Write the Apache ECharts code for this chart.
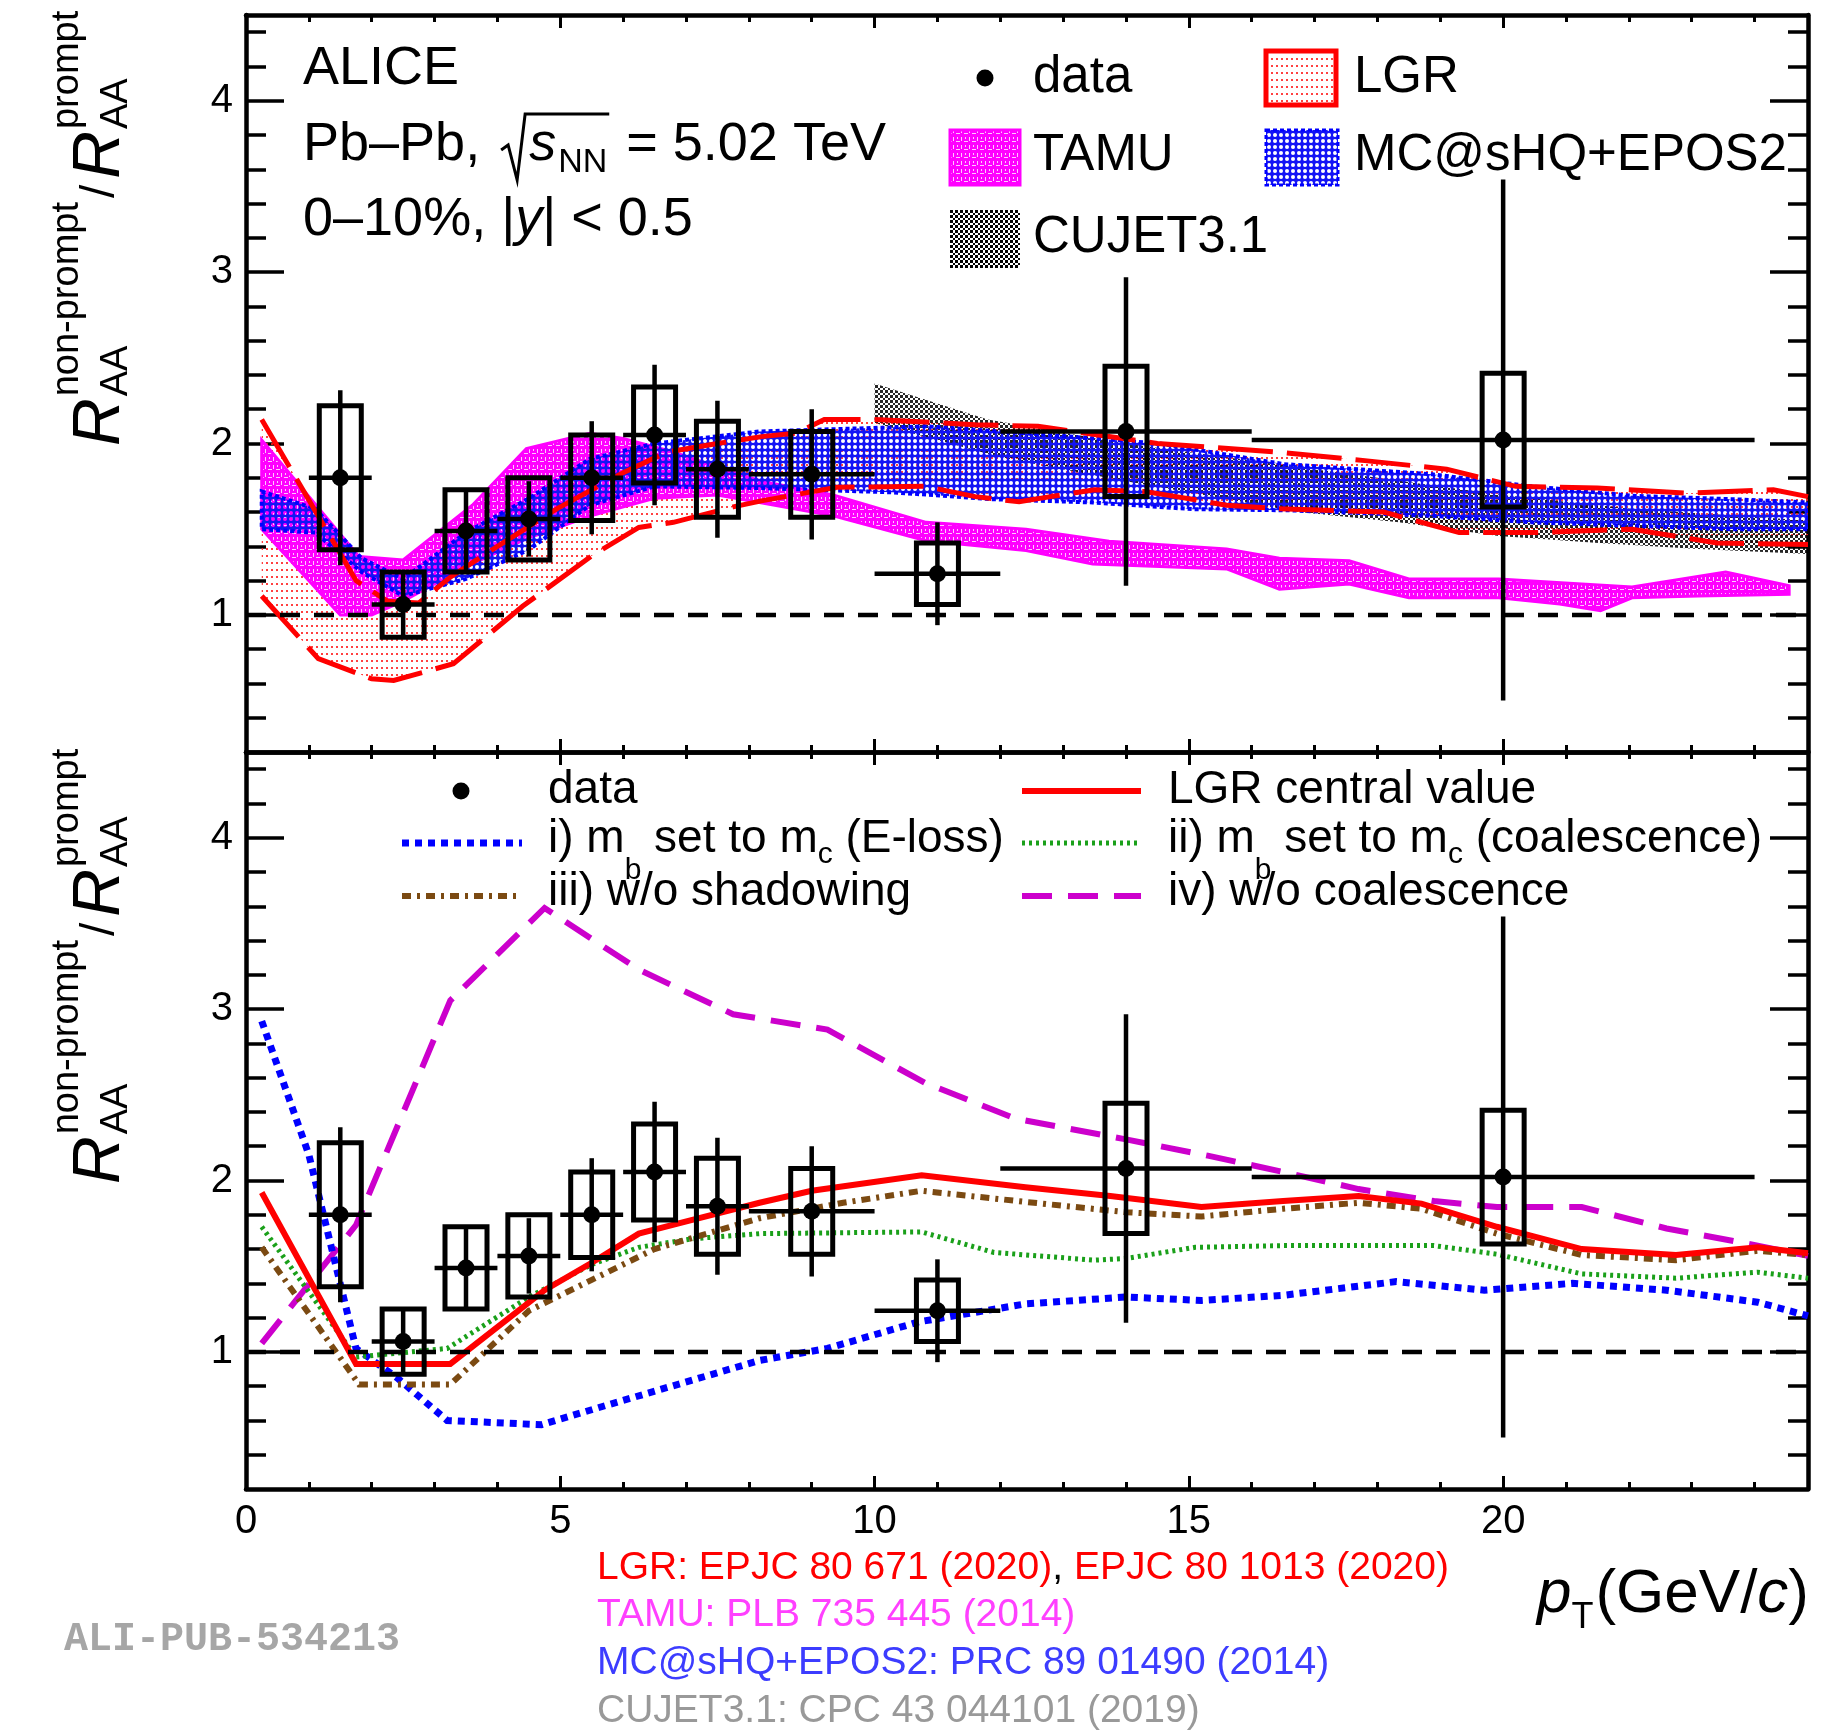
<!DOCTYPE html>
<html>
<head>
<meta charset="utf-8">
<script src="https://cdn.jsdelivr.net/npm/echarts@6/dist/echarts.min.js"></script>
<style>
  html, body { margin: 0; padding: 0; background: #fff; }
  #chart { width: 1828px; height: 1731px; }
</style>
</head>
<body>
<div id="chart"></div>
<script>
// ---------------- measured data: non-prompt / prompt D0 R_AA ratio ----------------
const ptCenter = [1.5, 2.5, 3.5, 4.5, 5.5, 6.5, 7.5, 9, 11, 14, 20];
const ptLow    = [1, 2, 3, 4, 5, 6, 7, 8, 10, 12, 16];
const ptHigh   = [2, 3, 4, 5, 6, 7, 8, 10, 12, 16, 24];
const ratio    = [1.80, 1.06, 1.49, 1.56, 1.80, 2.05, 1.85, 1.82, 1.24, 2.07, 2.02];
const statErr  = [0.51, 0.20, 0.23, 0.22, 0.33, 0.41, 0.40, 0.38, 0.30, 0.90, 1.52];
const systErr  = [0.42, 0.19, 0.24, 0.24, 0.25, 0.28, 0.28, 0.25, 0.18, 0.38, 0.39];

// ---------------- model bands (upper / lower edges) ----------------
const lgrUpX  = [0.25, 1.75, 2.25, 2.75, 3.25, 4.0, 4.95, 6.0, 6.7, 7.5, 8.2, 8.75, 9.2, 10.0, 11.6, 12.6, 14.5, 15.3, 16.4, 17.8, 19.1, 20.2, 21.5, 22.95, 24.3, 24.85];
const lgrUp   = [2.14, 1.20, 1.08, 1.07, 1.22, 1.40, 1.62, 1.83, 1.95, 2.00, 2.04, 2.06, 2.14, 2.14, 2.11, 2.10, 2.00, 1.98, 1.95, 1.90, 1.85, 1.75, 1.74, 1.71, 1.73, 1.69];
const lgrLoX  = [0.25, 1.15, 2.0, 2.35, 3.3, 4.4, 5.5, 6.25, 6.8, 7.75, 8.2, 9.4, 10.8, 11.6, 12.3, 12.8, 13.5, 14.3, 14.8, 15.6, 16.4, 18.1, 19.3, 20.5, 22.05, 23.4, 24.85];
const lgrLo   = [1.11, 0.745, 0.627, 0.617, 0.715, 1.05, 1.345, 1.51, 1.54, 1.63, 1.665, 1.745, 1.75, 1.69, 1.66, 1.69, 1.73, 1.72, 1.69, 1.64, 1.62, 1.60, 1.48, 1.48, 1.50, 1.42, 1.41];

const tamuUpX = [0.25, 1.8, 2.5, 3.6, 4.46, 5.47, 6.0, 6.8, 7.6, 8.2, 9.34, 10.82, 12.41, 13.73, 15.6, 16.44, 17.55, 18.5, 19.93, 21.25, 22.05, 23.54, 24.55];
const tamuUp  = [2.02, 1.34, 1.32, 1.64, 1.97, 2.06, 2.03, 1.95, 1.85, 1.78, 1.70, 1.54, 1.50, 1.43, 1.385, 1.33, 1.316, 1.21, 1.21, 1.18, 1.163, 1.25, 1.17];
const tamuLoX = [0.25, 1.5, 2.0, 2.5, 3.0, 3.5, 4.5, 5.5, 6.5, 7.5, 8.17, 9.34, 10.82, 12.41, 13.47, 15.6, 16.44, 17.55, 18.5, 19.93, 20.9, 21.55, 22.05, 23.1, 24.55];
const tamuLo  = [1.50, 1.00, 1.00, 1.08, 1.18, 1.28, 1.45, 1.58, 1.68, 1.70, 1.656, 1.578, 1.433, 1.375, 1.297, 1.268, 1.15, 1.18, 1.10, 1.10, 1.064, 1.025, 1.10, 1.11, 1.12];

const mcUpX   = [0.25, 1.1, 1.84, 2.5, 3.5, 4.5, 5.47, 6.5, 8.17, 10.82, 12.94, 14.53, 16.5, 18.87, 20.46, 22.05, 23.64, 24.85];
const mcUp    = [1.72, 1.62, 1.33, 1.21, 1.48, 1.68, 1.91, 2.00, 2.07, 2.10, 2.045, 2.00, 1.88, 1.82, 1.75, 1.695, 1.675, 1.656];
const mcLoX   = [0.25, 1.1, 1.84, 2.5, 3.5, 4.5, 5.47, 6.5, 8.17, 10.29, 11.88, 13.47, 15.06, 16.6, 18.87, 20.46, 22.05, 23.64, 24.85];
const mcLo    = [1.50, 1.48, 1.25, 1.11, 1.21, 1.38, 1.64, 1.75, 1.74, 1.715, 1.675, 1.656, 1.617, 1.61, 1.578, 1.54, 1.52, 1.50, 1.50];

const cujetUpX = [10.0, 11.8, 14.0, 16.0, 18.0, 20.0, 22.0, 24.85];
const cujetUp  = [2.35, 2.14, 2.00, 1.90, 1.80, 1.70, 1.62, 1.55];
const cujetLoX = [10.0, 11.0, 12.0, 14.0, 16.76, 18.34, 19.93, 21.52, 23.1, 24.85];
const cujetLo  = [2.12, 2.02, 1.92, 1.78, 1.60, 1.54, 1.46, 1.42, 1.385, 1.355];

// ---------------- LGR variations (lower panel) ----------------
const lgrCentralX = [0.25, 1.75, 3.25, 4.75, 5.5, 6.25, 7.1, 8.17, 9.0, 10.75, 12.4, 13.75, 15.2, 16.5, 17.7, 18.7, 19.9, 21.25, 22.75, 24.05, 24.85];
const lgrCentral  = [1.93, 0.93, 0.93, 1.36, 1.52, 1.69, 1.77, 1.87, 1.94, 2.03, 1.96, 1.91, 1.845, 1.88, 1.91, 1.865, 1.73, 1.60, 1.565, 1.61, 1.575];
const elossX = [0.25, 1.0, 1.75, 2.4, 3.2, 4.7, 5.75, 7.1, 8.17, 9.25, 10.7, 12.4, 14.0, 15.2, 16.5, 18.3, 19.7, 21.1, 22.6, 24.05, 24.85];
const eloss  = [2.93, 2.15, 1.02, 0.85, 0.60, 0.575, 0.69, 0.835, 0.95, 1.02, 1.175, 1.28, 1.32, 1.30, 1.33, 1.41, 1.36, 1.40, 1.36, 1.29, 1.21];
const coalX  = [0.25, 1.75, 3.2, 4.5, 5.5, 6.25, 7.1, 8.17, 10.75, 11.9, 13.5, 14.0, 15.1, 16.5, 18.9, 19.9, 21.25, 22.75, 24.05, 24.85];
const coal   = [1.73, 0.97, 1.02, 1.32, 1.51, 1.61, 1.66, 1.69, 1.70, 1.58, 1.535, 1.545, 1.61, 1.62, 1.62, 1.57, 1.455, 1.43, 1.465, 1.43];
const noShadowX = [0.25, 1.8, 3.25, 4.5, 5.5, 6.5, 8.17, 9.5, 10.75, 12.4, 14.0, 15.2, 16.5, 17.7, 18.7, 19.9, 21.25, 22.75, 24.05, 24.85];
const noShadow  = [1.61, 0.81, 0.81, 1.24, 1.42, 1.60, 1.78, 1.87, 1.94, 1.875, 1.815, 1.79, 1.835, 1.87, 1.835, 1.69, 1.565, 1.535, 1.59, 1.565];
const noCoalX = [0.25, 1.75, 3.25, 4.75, 6.25, 7.75, 9.25, 10.8, 12.25, 14.0, 15.3, 16.5, 17.7, 18.9, 19.9, 21.25, 22.6, 24.05, 24.85];
const noCoal  = [1.05, 1.74, 3.05, 3.59, 3.23, 2.97, 2.88, 2.57, 2.36, 2.24, 2.145, 2.05, 1.95, 1.88, 1.845, 1.845, 1.72, 1.62, 1.56];

// ---------------- axes ----------------
const X_MIN = 0, X_MAX = 24.85, Y_MIN = 0.2, Y_MAX = 4.5;
const xMajorTicks = [0, 5, 10, 15, 20];
const xMinorTicks = [1, 2, 3, 4, 6, 7, 8, 9, 11, 12, 13, 14, 16, 17, 18, 19, 21, 22, 23, 24];
const yMajorTicks = [1, 2, 3, 4];
const yMinorTicks = [0.4, 0.6, 0.8, 1.2, 1.4, 1.6, 1.8, 2.2, 2.4, 2.6, 2.8, 3.2, 3.4, 3.6, 3.8, 4.2, 4.4];

// ---------------- helpers ----------------
const FAM = '"Liberation Sans", Arial, Helvetica, sans-serif';
const mctx = document.createElement('canvas').getContext('2d');
function textW(s, size, italic, bold, fam) {
  mctx.font = (italic ? 'italic ' : '') + (bold ? 'bold ' : '') + size + 'px ' + (fam || FAM);
  return mctx.measureText(s).width;
}
const MID = 0.32; // distance from alphabetic baseline to the 'middle' line, in em

function txt(t, x, base, size, opt) {
  opt = opt || {};
  return {
    type: 'text', x: x, y: base - MID * size, z: 50,
    style: {
      text: t, fontSize: size, fontFamily: opt.fam || FAM,
      fontStyle: opt.italic ? 'italic' : 'normal', fontWeight: opt.bold ? 'bold' : 'normal',
      fill: opt.color || '#000', align: 'left', verticalAlign: 'middle'
    }
  };
}
// a sequence of text pieces on one baseline
function textRun(x, base, pieces, color) {
  const out = [];
  let cx = x;
  pieces.forEach(p => {
    out.push(txt(p.t, cx + (p.dx || 0), base + (p.dy || 0), p.size, { italic: p.italic, color: p.color || color }));
    cx += (p.dx || 0) + textW(p.t, p.size, p.italic) + (p.gap || 0);
  });
  return { items: out, end: cx };
}
function runWidth(pieces) {
  return pieces.reduce((s, p) => s + (p.dx || 0) + textW(p.t, p.size, p.italic) + (p.gap || 0), 0);
}

function tile(w, h, paint) {
  const c = document.createElement('canvas');
  c.width = w; c.height = h;
  paint(c.getContext('2d'));
  return { image: c, repeat: 'repeat' };
}
const lgrFill = tile(5, 7, g => { g.fillStyle = 'rgba(255,30,30,0.85)'; g.fillRect(1, 2, 2, 2); });
const tamuFill = tile(8, 8, g => {
  g.fillStyle = '#ff00ff'; g.fillRect(0, 0, 8, 8);
  g.fillStyle = 'rgba(255,235,255,0.85)'; g.fillRect(1, 1, 1, 4); g.fillRect(4, 5, 4, 1); g.fillRect(5, 1, 1, 2);
});
// blue with see-through holes
const mcFill = tile(6, 6, g => {
  g.fillStyle = '#1414f5'; g.fillRect(0, 0, 6, 6);
  g.globalCompositeOperation = 'destination-out';
  g.beginPath(); g.arc(3, 3, 2.0, 0, Math.PI * 2); g.fill();
});
const cujetFill = tile(5, 5, g => {
  g.fillStyle = '#000'; g.fillRect(0, 0, 3, 3); g.fillRect(3, 3, 2, 2);
});

// ---------------- series builders ----------------
function band(name, ux, uy, lx, ly, fill, stroke, opacity) {
  return {
    type: 'custom', name: name, xAxisIndex: 0, yAxisIndex: 0, clip: true,
    data: [[ux[0], uy[0]]],
    renderItem: (params, api) => {
      const pts = ux.map((x, i) => api.coord([x, uy[i]]));
      for (let i = lx.length - 1; i >= 0; i--) pts.push(api.coord([lx[i], ly[i]]));
      return {
        type: 'polygon', shape: { points: pts },
        style: { fill: fill, opacity: opacity == null ? 1 : opacity, stroke: stroke ? stroke.color : null, lineWidth: stroke ? stroke.width : 0, lineDash: stroke && stroke.dash ? stroke.dash : null }
      };
    }
  };
}
function curve(name, xs, ys, axis, color, width, dash, cap) {
  return {
    type: 'line', name: name, xAxisIndex: axis, yAxisIndex: axis,
    data: xs.map((x, i) => [x, ys[i]]),
    showSymbol: false, symbol: 'none', smooth: false, silent: true,
    lineStyle: { color: color, width: width, type: dash || 'solid', cap: cap || 'butt', join: 'miter' }
  };
}
function unity(axis) {
  return curve('unity', [X_MIN, X_MAX], [1, 1], axis, '#000', 4.5, [20, 14]);
}
function points(axis) {
  return {
    type: 'custom', name: 'data', xAxisIndex: axis, yAxisIndex: axis, z: 6,
    data: ptCenter.map((x, i) => [x, ratio[i], ptLow[i], ptHigh[i], statErr[i], systErr[i]]),
    encode: { x: 0, y: 1 },
    renderItem: (params, api) => {
      const x = api.value(0), y = api.value(1);
      const c = api.coord([x, y]);
      const sT = api.coord([x, y + api.value(4)]), sB = api.coord([x, y - api.value(4)]);
      const bT = api.coord([x, y + api.value(5)]), bB = api.coord([x, y - api.value(5)]);
      const xl = api.coord([api.value(2), y]), xh = api.coord([api.value(3), y]);
      const ls = { stroke: '#000', lineWidth: 4.5 };
      return {
        type: 'group', children: [
          { type: 'rect', shape: { x: c[0] - 21, y: bT[1], width: 42, height: bB[1] - bT[1] }, style: { fill: 'none', stroke: '#000', lineWidth: 5 } },
          { type: 'line', shape: { x1: c[0], y1: sT[1], x2: c[0], y2: sB[1] }, style: ls },
          { type: 'line', shape: { x1: xl[0], y1: c[1], x2: xh[0], y2: c[1] }, style: ls },
          { type: 'circle', shape: { cx: c[0], cy: c[1], r: 8.5 }, style: { fill: '#000' } }
        ]
      };
    }
  };
}

// ---------------- axes builders ----------------
const AX = { color: '#000', width: 4.5 };
function xAxes(g) {
  const base = { type: 'value', gridIndex: g, min: X_MIN, max: X_MAX, splitLine: { show: false } };
  const major = (pos, labels) => Object.assign({}, base, {
    position: pos,
    axisLine: { show: true, onZero: false, lineStyle: AX },
    axisTick: { show: true, inside: true, length: 13, customValues: xMajorTicks, lineStyle: { color: '#000', width: 3 } },
    axisLabel: labels ? { show: true, customValues: xMajorTicks, fontSize: 40, fontFamily: FAM, color: '#000', margin: 13 } : { show: false }
  });
  const minor = pos => Object.assign({}, base, {
    position: pos,
    axisLine: { show: false, onZero: false },
    axisTick: { show: true, inside: true, length: 7, customValues: xMinorTicks, lineStyle: { color: '#000', width: 3 } },
    axisLabel: { show: false }
  });
  return [major('bottom', g === 1), major('top', false), minor('bottom'), minor('top')];
}
function yAxes(g) {
  const base = { type: 'value', gridIndex: g, min: Y_MIN, max: Y_MAX, splitLine: { show: false } };
  const major = (pos, labels) => Object.assign({}, base, {
    position: pos,
    axisLine: { show: true, onZero: false, lineStyle: AX },
    axisTick: { show: true, inside: true, length: 38, customValues: yMajorTicks, lineStyle: { color: '#000', width: 3.5 } },
    axisLabel: labels ? { show: true, customValues: yMajorTicks, fontSize: 40, fontFamily: FAM, color: '#000', margin: 13 } : { show: false }
  });
  const minor = pos => Object.assign({}, base, {
    position: pos,
    axisLine: { show: false, onZero: false },
    axisTick: { show: true, inside: true, length: 20, customValues: yMinorTicks, lineStyle: { color: '#000', width: 3.5 } },
    axisLabel: { show: false }
  });
  return [major('left', true), major('right', false), minor('left'), minor('right')];
}

// ---------------- text and legends ----------------
const G = [];
function push(items) { items.forEach(i => G.push(i)); }

// vertical axis title, R_AA^non-prompt / R_AA^prompt, reading upwards from screen y = bottom
function yTitle(bottom) {
  const kids = [];
  const big = 66, small = 38, baseR = 122, baseSub = 129, baseSup = 80;
  let lx = 0;
  kids.push(txt('R', lx, baseR, big, { italic: true }));
  lx += textW('R', big, true) + 2;
  kids.push(txt('AA', lx, baseSub, small));
  kids.push(txt('non-prompt', lx, baseSup, small));
  lx += textW('non-prompt', small) + 4;
  kids.push(txt('/', lx, baseR - 6, 48));
  lx += textW('/', 48) + 6;
  kids.push(txt('R', lx, baseR, big, { italic: true }));
  lx += textW('R', big, true) + 2;
  kids.push(txt('AA', lx, baseSub, small));
  kids.push(txt('prompt', lx, baseSup, small));
  return { type: 'group', x: 0, y: bottom, rotation: Math.PI / 2, children: kids, z: 50 };
}
G.push(yTitle(446));
G.push(yTitle(1184));

// header
const HS = 54;
push(textRun(303, 86, [{ t: 'ALICE', size: HS }]).items);
(function () {
  const a = textRun(303, 162, [{ t: 'Pb\u2013Pb, ', size: HS }]);
  push(a.items);
  const x0 = a.end + 6;
  const b = textRun(x0 + 28, 162, [{ t: 's', size: HS, italic: true, gap: 2 }, { t: 'NN', size: 34, dy: 12 }]);
  push(b.items);
  G.push({ type: 'polyline', z: 50, shape: { points: [[x0, 150], [x0 + 7, 145], [x0 + 16, 180], [x0 + 24, 114], [b.end + 2, 114]] }, style: { stroke: '#000', lineWidth: 3, fill: null } });
  push(textRun(b.end + 4, 162, [{ t: ' = 5.02 TeV', size: HS }]).items);
})();
push(textRun(303, 237, [{ t: '0\u201310%, |', size: HS }, { t: 'y', size: HS, italic: true }, { t: '| < 0.5', size: HS }]).items);

// upper legend
const TS = 51;
G.push({ type: 'circle', z: 50, shape: { cx: 985, cy: 78, r: 8.5 }, style: { fill: '#000' } });
push(textRun(1033, 94, [{ t: 'data', size: TS }]).items);
G.push({ type: 'rect', z: 50, shape: { x: 1266, y: 51, width: 70, height: 54 }, style: { fill: lgrFill, stroke: '#ff0000', lineWidth: 5 } });
push(textRun(1354, 94, [{ t: 'LGR', size: TS }]).items);
G.push({ type: 'rect', z: 50, shape: { x: 950, y: 130, width: 70, height: 55 }, style: { fill: tamuFill, stroke: '#ff00ff', lineWidth: 3 } });
push(textRun(1033, 172, [{ t: 'TAMU', size: TS }]).items);
G.push({ type: 'rect', z: 50, shape: { x: 1266, y: 130, width: 72, height: 55 }, style: { fill: mcFill, stroke: '#0000ff', lineWidth: 3, lineDash: [4, 3] } });
push(textRun(1354, 172, [{ t: 'MC@sHQ+EPOS2', size: TS }]).items);
G.push({ type: 'rect', z: 50, shape: { x: 950, y: 210, width: 70, height: 58 }, style: { fill: cujetFill, stroke: null } });
push(textRun(1033, 254, [{ t: 'CUJET3.1', size: TS }]).items);

// lower legend
function legLine(x1, x2, y, color, width, dash) {
  G.push({ type: 'line', z: 50, shape: { x1: x1, y1: y, x2: x2, y2: y }, style: { stroke: color, lineWidth: width, lineDash: dash || null } });
}
const LS = 46, SUB = 30;
G.push({ type: 'circle', z: 50, shape: { cx: 461, cy: 791, r: 8.5 }, style: { fill: '#000' } });
push(textRun(548, 805, [{ t: 'data', size: LS }]).items);
legLine(1022, 1141, 791, '#ff0000', 6);
push(textRun(1168, 805, [{ t: 'LGR central value', size: LS }]).items);
legLine(402, 522, 843, '#0000ff', 7, [7, 6]);
push(textRun(548, 854, [{ t: 'i) m', size: LS }, { t: 'b', size: SUB, dy: 26 }, { t: ' set to m', size: LS }, { t: 'c', size: SUB, dy: 10 }, { t: ' (E-loss)', size: LS }]).items);
legLine(1022, 1141, 843, '#1aa01a', 5, [3, 4]);
push(textRun(1168, 854, [{ t: 'ii) m', size: LS }, { t: 'b', size: SUB, dy: 26 }, { t: ' set to m', size: LS }, { t: 'c', size: SUB, dy: 10 }, { t: ' (coalescence)', size: LS }]).items);
legLine(402, 522, 896, '#7b4a12', 6, [9, 6, 3, 6]);
push(textRun(548, 907, [{ t: 'iii) w/o shadowing', size: LS }]).items);
legLine(1022, 1141, 896, '#cc00cc', 6, [30, 16]);
push(textRun(1168, 907, [{ t: 'iv) w/o coalescence', size: LS }]).items);

// x axis title, right-aligned with the frame
(function () {
  const pcs = [{ t: 'p', size: 62, italic: true }, { t: 'T', size: 36, dy: 15, gap: 2 }, { t: '(GeV/', size: 62 }, { t: 'c', size: 62, italic: true }, { t: ')', size: 62 }];
  push(textRun(1809 - runWidth(pcs), 1615, pcs).items);
})();

// references
push(textRun(597, 1581, [{ t: 'LGR: EPJC 80 671 (2020)', size: 39, color: '#ff0000' }, { t: ', ', size: 39, color: '#000' }, { t: 'EPJC 80 1013 (2020)', size: 39, color: '#ff0000' }]).items);
push(textRun(597, 1628, [{ t: 'TAMU: PLB 735 445 (2014)', size: 39, color: '#ff40ff' }]).items);
push(textRun(597, 1676, [{ t: 'MC@sHQ+EPOS2: PRC 89 01490 (2014)', size: 39, color: '#3c3cff' }]).items);
push(textRun(597, 1724, [{ t: 'CUJET3.1: CPC 43 044101 (2019)', size: 39, color: '#999999' }]).items);
G.push(txt('ALI-PUB-534213', 64, 1653, 40, { bold: true, fam: '"Liberation Mono", "DejaVu Sans Mono", monospace', color: '#a6a6a6' }));

// ---------------- chart ----------------
const chart = echarts.init(document.getElementById('chart'), null, { renderer: 'canvas', width: 1828, height: 1731 });
const option = {
  backgroundColor: '#fff',
  animation: false,
  grid: [
    { left: 246, top: 15, width: 1562, height: 737, containLabel: false, outerBoundsMode: 'none' },
    { left: 246, top: 752, width: 1562, height: 737, containLabel: false, outerBoundsMode: 'none' }
  ],
  xAxis: xAxes(0).concat(xAxes(1)),
  yAxis: yAxes(0).concat(yAxes(1)),
  series: [
    band('LGR', lgrUpX, lgrUp, lgrLoX, lgrLo, lgrFill),
    band('TAMU', tamuUpX, tamuUp, tamuLoX, tamuLo, tamuFill, { color: '#ff00ff', width: 3 }),
    band('CUJET3.1', cujetUpX, cujetUp, cujetLoX, cujetLo, cujetFill, null, 0.85),
    band('MC@sHQ+EPOS2', mcUpX, mcUp, mcLoX, mcLo, mcFill, { color: '#0000ff', width: 4, dash: [4, 3] }),
    curve('LGR upper', lgrUpX, lgrUp, 0, '#ff0000', 5, [55, 14]),
    curve('LGR lower', lgrLoX, lgrLo, 0, '#ff0000', 5, [55, 14]),
    unity(0),
    points(0),

    curve('iv) w/o coalescence', noCoalX, noCoal, 4, '#cc00cc', 6, [30, 16]),
    curve('i) E-loss', elossX, eloss, 4, '#0000ff', 7, [7, 6]),
    curve('ii) coalescence', coalX, coal, 4, '#1aa01a', 5, [3, 4]),
    curve('iii) w/o shadowing', noShadowX, noShadow, 4, '#7b4a12', 6, [9, 6, 3, 6]),
    curve('LGR central value', lgrCentralX, lgrCentral, 4, '#ff0000', 6),
    unity(4),
    points(4)
  ],
  graphic: { elements: G }
};
chart.setOption(option);
</script>
</body>
</html>
